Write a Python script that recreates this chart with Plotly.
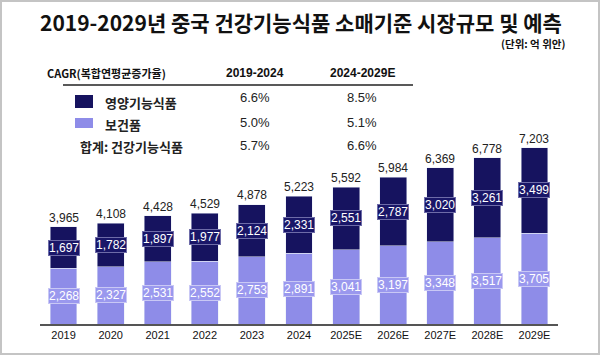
import plotly.graph_objects as go

years = ["2019", "2020", "2021", "2022", "2023", "2024", "2025E", "2026E", "2027E", "2028E", "2029E"]
nutri = [1697, 1782, 1897, 1977, 2124, 2331, 2551, 2787, 3020, 3261, 3499]   # 영양기능식품
health = [2268, 2327, 2531, 2552, 2753, 2891, 3041, 3197, 3348, 3517, 3705]  # 보건품
totals = [3965, 4108, 4428, 4529, 4878, 5223, 5592, 5984, 6369, 6778, 7203]

cagr_header = ["CAGR(복합연평균증가율)", "2019-2024", "2024-2029E"]
cagr_rows = ["영양기능식품", "보건품", "합계: 건강기능식품"]
cagr_p1 = ["6.6%", "5.0%", "5.7%"]
cagr_p2 = ["8.5%", "5.1%", "6.6%"]

DARK = "#16135f"
LIGHT = "#8e8ce8"
W, H = 600, 355
L, R, T, B = 40, 42, 128, 31
PW, PH = W - L - R, H - T - B

def px(x):
    return (x - L) / PW

def py(y):
    return (H - B - y) / PH

NUM = "Liberation Sans, Arial, sans-serif"
KR = "Noto Sans CJK KR, sans-serif"

idx = list(range(len(years)))

fig = go.Figure()
fig.add_trace(go.Bar(x=idx, y=health, marker_color=LIGHT, name="보건품", hoverinfo="skip"))
fig.add_trace(go.Bar(x=idx, y=nutri, marker_color=DARK, name="영양기능식품", hoverinfo="skip"))

ann = []
for i in idx:
    ann.append(dict(x=i, y=health[i] / 2, text=f"{health[i]:,}", showarrow=False,
                    font=dict(family=NUM, size=12, color="white"),
                    bgcolor="#9a98ee", bordercolor="#c9c8f5", borderwidth=1, borderpad=0))
    ann.append(dict(x=i, y=health[i] + nutri[i] / 2, text=f"{nutri[i]:,}", showarrow=False,
                    font=dict(family=NUM, size=12, color="white"),
                    bgcolor="#191668", bordercolor="#6e6ca8", borderwidth=1, borderpad=0))
    ann.append(dict(x=i, y=totals[i], yshift=9, text=f"{totals[i]:,}", showarrow=False,
                    font=dict(family=NUM, size=12, color="#222222")))

# title and unit
ann.append(dict(xref="paper", yref="paper", x=px(301), y=py(22), text="<b>2019-2029년 중국 건강기능식품 소매기준 시장규모 및 예측</b>",
                showarrow=False, font=dict(family=KR, size=21, color="#111111"), xanchor="center", yanchor="middle"))
ann.append(dict(xref="paper", yref="paper", x=px(567), y=py(43), text="<b>(단위: 억 위안)</b>",
                showarrow=False, font=dict(family=KR, size=10.5, color="#111111"), xanchor="right", yanchor="middle"))

# CAGR table
ann.append(dict(xref="paper", yref="paper", x=px(45), y=py(73), text="<b>" + cagr_header[0] + "</b>",
                showarrow=False, font=dict(family=KR, size=11, color="#111111"), xanchor="left", yanchor="middle"))
ann.append(dict(xref="paper", yref="paper", x=px(255), y=py(73), text="<b>" + cagr_header[1] + "</b>",
                showarrow=False, font=dict(family=NUM, size=12, color="#111111"), xanchor="center", yanchor="middle"))
ann.append(dict(xref="paper", yref="paper", x=px(362), y=py(73), text="<b>" + cagr_header[2] + "</b>",
                showarrow=False, font=dict(family=NUM, size=12, color="#111111"), xanchor="center", yanchor="middle"))

row_y = [102, 125, 146]
val_y = [98, 122, 145]
row_x = [103, 103, 78]
for i, lab in enumerate(cagr_rows):
    ann.append(dict(xref="paper", yref="paper", x=px(row_x[i]), y=py(row_y[i]), text="<b>" + lab + "</b>",
                    showarrow=False, font=dict(family=KR, size=13, color="#222222"), xanchor="left", yanchor="middle"))
    ann.append(dict(xref="paper", yref="paper", x=px(255), y=py(val_y[i]), text=cagr_p1[i],
                    showarrow=False, font=dict(family=NUM, size=13, color="#222222"), xanchor="center", yanchor="middle"))
    ann.append(dict(xref="paper", yref="paper", x=px(362), y=py(val_y[i]), text=cagr_p2[i],
                    showarrow=False, font=dict(family=NUM, size=13, color="#222222"), xanchor="center", yanchor="middle"))

shapes = [
    dict(type="line", xref="paper", yref="paper", x0=px(63), x1=px(413), y0=py(85), y1=py(85),
         line=dict(color="#222222", width=1.5)),
    dict(type="rect", xref="paper", yref="paper", x0=px(75), x1=px(93), y0=py(108), y1=py(95),
         fillcolor=DARK, line=dict(width=0)),
    dict(type="rect", xref="paper", yref="paper", x0=px(75), x1=px(93), y0=py(128), y1=py(118),
         fillcolor=LIGHT, line=dict(width=0)),
    dict(type="rect", xref="paper", yref="paper", x0=px(1), x1=px(W - 1), y0=py(H - 1), y1=py(1),
         line=dict(color="#c4c4c4", width=2), fillcolor="rgba(0,0,0,0)", layer="above"),
]

fig.update_layout(
    width=W, height=H, margin=dict(l=L, r=R, t=T, b=B),
    barmode="stack", bargap=0.43, showlegend=False,
    plot_bgcolor="white", paper_bgcolor="white",
    annotations=ann, shapes=shapes,
    xaxis=dict(range=[-0.5, 10.5], tickmode="array", tickvals=idx, ticktext=years,
               showline=True, linecolor="#555555", linewidth=2, ticks="",
               tickfont=dict(family=NUM, size=11, color="#111111"), showgrid=False, zeroline=False,
               fixedrange=True),
    yaxis=dict(range=[0, 8000], visible=False, showgrid=False, fixedrange=True),
)
fig.write_html("out.html", config={"displayModeBar": False},
               post_script="document.body.style.margin='0';document.body.style.padding='0';document.body.style.overflow='hidden';")
